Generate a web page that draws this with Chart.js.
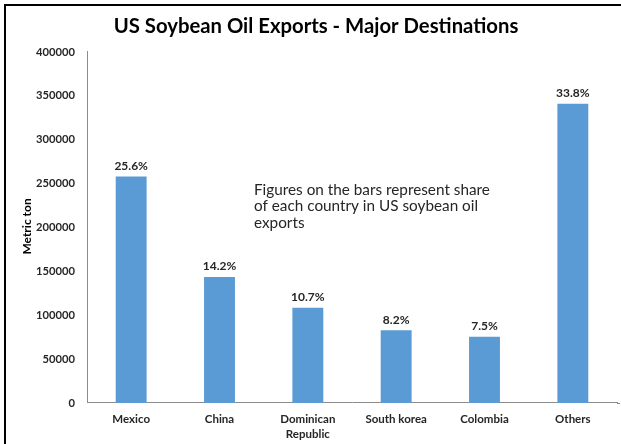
<!DOCTYPE html>
<html><head><meta charset="utf-8">
<script src="https://cdn.jsdelivr.net/npm/chart.js@4/dist/chart.umd.min.js"></script>
<style>
html,body{margin:0;padding:0;background:#fff;overflow:hidden;}
canvas{display:block;}
</style></head><body>
<canvas id="c" width="621" height="444"></canvas>
<script>
const categories = [["Mexico"], ["China"], ["Dominican", "Republic"], ["South korea"], ["Colombia"], ["Others"]];
const exportVolumes = [258000, 143500, 108500, 83000, 75500, 341000];
const shareLabels = ["25.6%", "14.2%", "10.7%", "8.2%", "7.5%", "33.8%"];
const yTickValues = [0, 50000, 100000, 150000, 200000, 250000, 300000, 350000, 400000];
const titleText = "US Soybean Oil Exports - Major Destinations";
const yAxisTitle = "Metric ton";
const noteLines = ["Figures on the bars represent share", "of each country in US soybean oil", "exports"];

const FONT = "Lato, 'Open Sans', sans-serif";

const framePlugin = {
  id: 'frame',
  beforeDraw(chart) {
    const ctx = chart.ctx;
    ctx.save();
    ctx.fillStyle = '#fff';
    ctx.fillRect(0, 0, chart.width, chart.height);
    ctx.fillStyle = '#000';
    ctx.fillRect(4, 4, chart.width - 4, 2);
    ctx.fillRect(4, 4, 2, chart.height - 4);
    ctx.restore();
  }
};

const labelPlugin = {
  id: 'barLabels',
  afterDatasetsDraw(chart) {
    const ctx = chart.ctx;
    const meta = chart.getDatasetMeta(0);
    const area = chart.chartArea;
    ctx.save();
    // extend x axis line to the right edge as in the original
    ctx.strokeStyle = '#8c8c8c';
    ctx.lineWidth = 1;
    ctx.beginPath();
    ctx.moveTo(area.right, area.bottom + 0.5);
    ctx.lineTo(chart.width - 1, area.bottom + 0.5);
    ctx.stroke();
    ctx.font = 'bold 12px ' + FONT;
    ctx.fillStyle = '#262626';
    ctx.textAlign = 'center';
    ctx.textBaseline = 'middle';
    meta.data.forEach((bar, i) => { ctx.fillText(shareLabels[i], bar.x, bar.y - 10.5); });
    ctx.font = '15.3px ' + FONT;
    ctx.textAlign = 'left';
    noteLines.forEach((t, i) => ctx.fillText(t, 254, 190 + i * 16.5));
    ctx.translate(27, (area.top + area.bottom) / 2 - 1);
    ctx.rotate(-Math.PI / 2);
    ctx.font = 'bold 12px ' + FONT;
    ctx.fillStyle = '#000';
    ctx.textAlign = 'center';
    ctx.fillText(yAxisTitle, 0, 0);
    ctx.restore();
  }
};

new Chart(document.getElementById('c'), {
  type: 'bar',
  data: {
    labels: categories,
    datasets: [{
      data: exportVolumes,
      backgroundColor: '#5B9BD5',
      borderWidth: 0,
      categoryPercentage: 1,
      barPercentage: 0.35
    }]
  },
  options: {
    responsive: false,
    animation: false,
    devicePixelRatio: 1,
    layout: { padding: { left: 15, right: 4, top: 0, bottom: 0 } },
    plugins: {
      legend: { display: false },
      tooltip: { enabled: false },
      title: {
        display: true,
        text: titleText,
        color: '#000',
        font: { family: FONT, size: 20.3, weight: 'bold', lineHeight: 1.2 },
        padding: { top: 14, bottom: 13.6 }
      }
    },
    scales: {
      x: {
        grid: { display: false, drawTicks: false },
        border: { display: true, color: '#8c8c8c', width: 1 },
        ticks: {
          color: '#262626',
          font: { family: FONT, size: 11.5, weight: 'bold', lineHeight: 1.3 },
          padding: 9,
          maxRotation: 0,
          autoSkip: false
        },
        afterFit(scale) { scale.height = 41; }
      },
      y: {
        min: 0,
        max: 400000,
        grid: { display: false, drawTicks: false },
        border: { display: true, color: '#8c8c8c', width: 1 },
        afterBuildTicks(scale) { scale.ticks = yTickValues.map(v => ({ value: v })); },
        ticks: {
          color: '#262626',
          font: { family: FONT, size: 11.2, weight: 'bold' },
          padding: 12,
          callback: v => String(v)
        },
        afterFit(scale) { scale.width = 72; }
      }
    }
  },
  plugins: [framePlugin, labelPlugin]
});
</script>
</body></html>
